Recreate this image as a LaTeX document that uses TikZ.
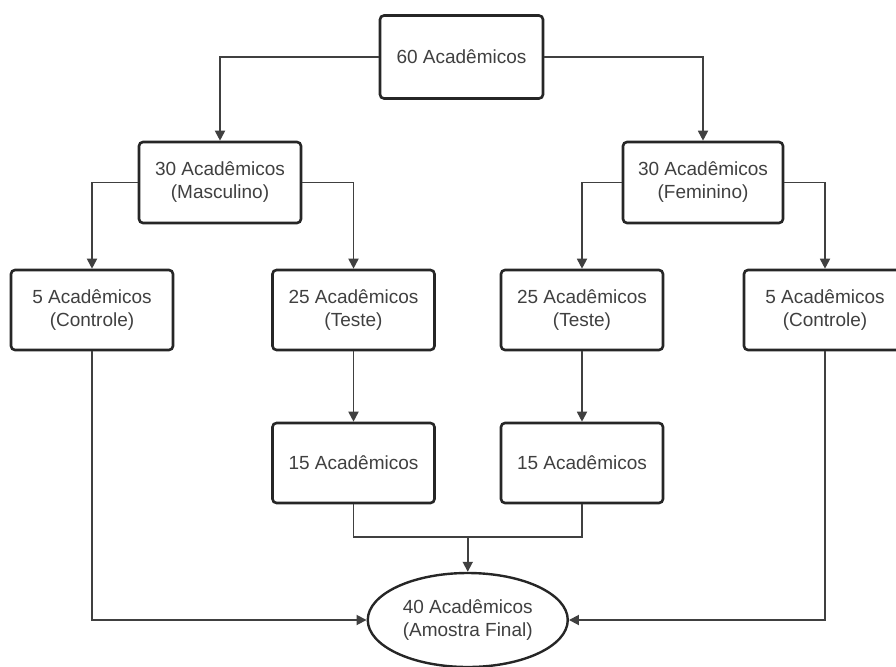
\documentclass[tikz,border=0pt]{standalone}
\usepackage{fontspec}
\setmainfont{Liberation Sans}
\usetikzlibrary{arrows.meta,shapes.geometric,calc}
\begin{document}
\begin{tikzpicture}[x=1pt,y=-1pt,
  box/.style={draw=black!85, line width=2.6pt, rounded corners=4pt, fill=white,
    minimum width=162pt, minimum height=81pt, inner sep=0pt, align=center,
    font=\fontsize{19}{23}\selectfont, text=black!75},
  final/.style={draw=black!85, line width=2.4pt, ellipse, fill=white,
    minimum width=200pt, minimum height=94pt, inner sep=0pt, align=center,
    font=\fontsize{19}{23}\selectfont, text=black!75},
  conn/.style={draw=black!75, line width=1.8pt},
  arr/.style={conn, -{Triangle[length=10pt,width=10pt]}}]
\useasboundingbox (0,0) rectangle (896,666);
\node[box, minimum width=163pt, minimum height=83pt] (top) at (461.5,57) {60 Acadêmicos};
\node[box] (m30) at (220,182.5) {30 Acadêmicos\\(Masculino)};
\node[box, minimum width=160pt] (f30) at (703,182.5) {30 Acadêmicos\\(Feminino)};
\node[box, minimum height=80pt] (c5L) at (92,310) {5 Acadêmicos\\(Controle)};
\node[box, minimum height=80pt] (tL) at (353.5,310) {25 Acadêmicos\\(Teste)};
\node[box, minimum height=80pt] (tR) at (582,310) {25 Acadêmicos\\(Teste)};
\node[box, minimum height=80pt] (c5R) at (825,310) {5 Acadêmicos\\(Controle)};
\node[box, minimum height=80pt] (q15L) at (353.5,463) {15 Acadêmicos};
\node[box, minimum height=80pt] (q15R) at (582,463) {15 Acadêmicos};
\node[final] (fin) at (467.75,620) {40 Acadêmicos\\(Amostra Final)};
\coordinate (mj) at (467.75,537);
\draw[arr] (top.west) -| (m30.north);
\draw[arr] (top.east) -| (f30.north);
\draw[arr] (m30.west) -| (c5L.north);
\draw[arr] (m30.east) -| (tL.north);
\draw[arr] (f30.west) -| (tR.north);
\draw[arr] (f30.east) -| (c5R.north);
\draw[arr] (tL.south) -- (q15L.north);
\draw[arr] (tR.south) -- (q15R.north);
\draw[conn] (q15L.south) |- (mj) -| (q15R.south);
\draw[arr] (mj) -- (fin.north);
\draw[arr] (c5L.south) |- (fin.west);
\draw[arr] (c5R.south) |- (fin.east);
\end{tikzpicture}
\end{document}
